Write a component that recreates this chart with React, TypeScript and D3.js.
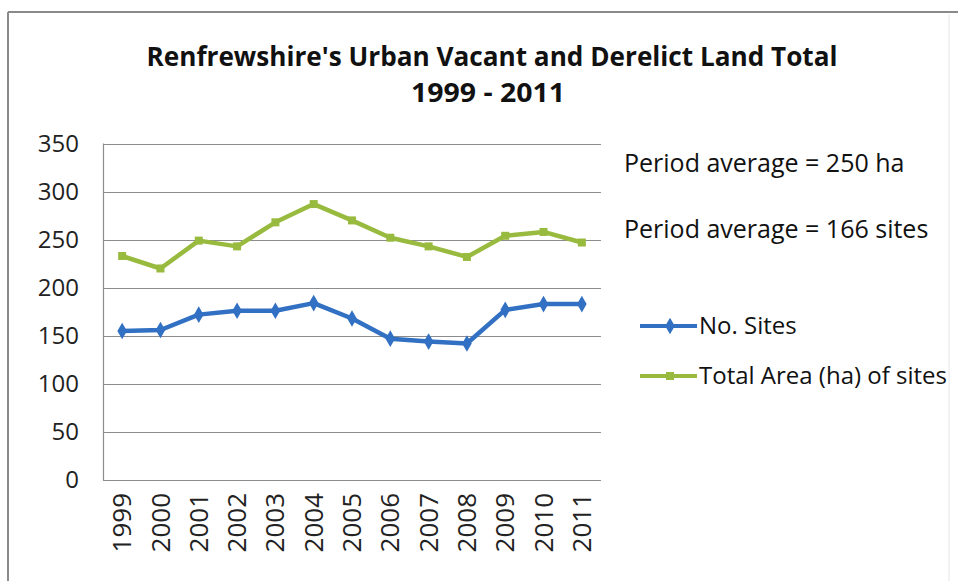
import React from "react";
import * as d3 from "d3";

// chart data
const years = ["1999", "2000", "2001", "2002", "2003", "2004", "2005", "2006", "2007", "2008", "2009", "2010", "2011"];
const noSites = [155, 156, 172, 176, 176, 184, 168, 147, 144, 142, 177, 183, 183];
const totalArea = [233, 220, 249, 243, 268, 287, 270, 252, 243, 232, 254, 258, 247];
const yTicks = [0, 50, 100, 150, 200, 250, 300, 350];
const seriesNames = ["No. Sites", "Total Area (ha) of sites"];
const averageNotes = ["Period average = 250 ha", "Period average = 166 sites"];
const titleLines = ["Renfrewshire's Urban Vacant and Derelict Land Total", "1999 - 2011"];

const W = 958;
const H = 581;
const plot = { left: 103, right: 601, top: 143.5, bottom: 480 };
const font = "'Open Sans', 'Noto Sans', sans-serif";
const blue = "#3170c2";
const green = "#98ba3e";

const App = () => {
    const x = d3.scaleBand().domain(years).range([plot.left, plot.right]).padding(0);
    const y = d3.scaleLinear().domain([0, 350]).range([plot.bottom, plot.top]);
    const cx = (yr) => x(yr) + x.bandwidth() / 2;

    const line = d3.line<number>()
        .x((d, i) => cx(years[i]))
        .y((d) => y(d));

    const diamond = d3.symbol().type(d3.symbolDiamond).size(80)();
    const square = d3.symbol().type(d3.symbolSquare).size(64)();

    const series = [
        { name: seriesNames[0], values: noSites, color: blue, marker: diamond },
        { name: seriesNames[1], values: totalArea, color: green, marker: square },
    ];

    return (
        <svg width={W} height={H} style={{ position: "absolute", left: 0, top: 0, background: "#fff" }}
            fontFamily={font}>
            {/* frame */}
            <line x1={8} y1={12} x2={W} y2={12} stroke="#8a8a8a" strokeWidth={2} />
            <line x1={8} y1={12} x2={8} y2={H} stroke="#8a8a8a" strokeWidth={2} />
            <line x1={949} y1={14} x2={949} y2={H} stroke="#e6e6e6" strokeWidth={1} />

            {/* title */}
            <text x={492} y={66} textAnchor="middle" fontWeight="bold" fontSize={26} fill="#111"
                textLength={691} lengthAdjust="spacingAndGlyphs">{titleLines[0]}</text>
            <text x={488} y={102} textAnchor="middle" fontWeight="bold" fontSize={26} fill="#111"
                textLength={154} lengthAdjust="spacingAndGlyphs">{titleLines[1]}</text>

            {/* grid + y labels */}
            {yTicks.map((t) => (
                <g key={t}>
                    <line x1={plot.left} x2={plot.right} y1={Math.round(y(t)) + 0.5} y2={Math.round(y(t)) + 0.5}
                        stroke="#8c8c8c" strokeWidth={1.2} />
                    <text x={79} y={y(t)} dy="0.35em" textAnchor="end" fontSize={24} fill="#222">{t}</text>
                </g>
            ))}
            <line x1={plot.left + 0.5} x2={plot.left + 0.5} y1={plot.top} y2={plot.bottom} stroke="#8c8c8c" strokeWidth={1.2} />

            {/* x labels */}
            {years.map((yr) => (
                <text key={yr} transform={`translate(${cx(yr)},${493}) rotate(-90)`} textAnchor="end" dy="0.35em"
                    fontSize={26} fill="#222">{yr}</text>
            ))}

            {/* lines */}
            {series.map((s) => (
                <g key={s.name}>
                    <path d={line(s.values)} fill="none" stroke={s.color} strokeWidth={4.5} strokeLinejoin="round" />
                    {s.values.map((v, i) => (
                        <path key={i} d={s.marker} transform={`translate(${cx(years[i])},${y(v)})`} fill={s.color} />
                    ))}
                </g>
            ))}

            {/* average notes */}
            {averageNotes.map((n, i) => (
                <text key={n} x={624} y={172 + i * 66} fontSize={25} fill="#111">{n}</text>
            ))}

            {/* legend */}
            {series.map((s, i) => {
                const ly = 326 + i * 50;
                return (
                    <g key={s.name}>
                        <line x1={640} x2={697} y1={ly} y2={ly} stroke={s.color} strokeWidth={4} />
                        <path d={s.marker} transform={`translate(670,${ly})`} fill={s.color} />
                        <text x={699} y={ly} dy="0.35em" fontSize={24} fill="#111">{s.name}</text>
                    </g>
                );
            })}
        </svg>
    );
};

export default App;
